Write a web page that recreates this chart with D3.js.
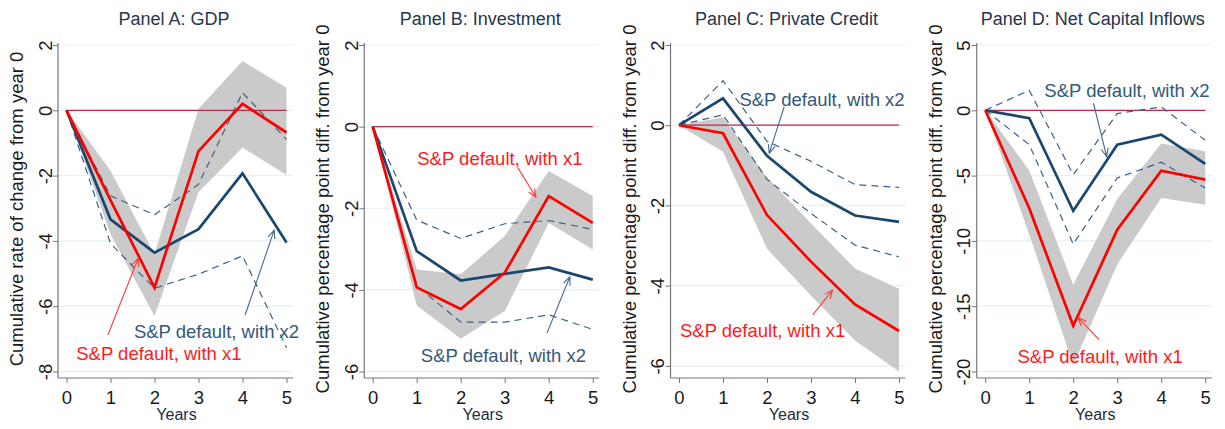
<!DOCTYPE html>
<html>
<head>
<meta charset="utf-8">
<script src="https://cdn.jsdelivr.net/npm/d3@7"></script>
<style>
  body { margin: 0; background: #fff; }
  svg { display: block; font-family: "Liberation Sans", Arial, sans-serif; }
</style>
</head>
<body>
<div id="chart"></div>
<script>
// years on the x axis
var years = [0, 1, 2, 3, 4, 5];
var labelX1 = "S&P default, with x1";
var labelX2 = "S&P default, with x2";

var panelTitles = ["Panel A: GDP", "Panel B: Investment", "Panel C: Private Credit", "Panel D: Net Capital Inflows"];
var yTitles = ["Cumulative rate of change from year 0",
    "Cumulative percentage point diff. from year 0",
    "Cumulative percentage point diff. from year 0",
    "Cumulative percentage point diff. from year 0"];

// Panel A: GDP
var gdpTicks = [-8, -6, -4, -2, 0, 2];
var gdpX1 = [0, -2.75, -5.43, -1.25, 0.2, -0.68];
var gdpX1Lo = [0, -3.8, -6.3, -2.5, -1.14, -1.98];
var gdpX1Hi = [0, -1.85, -4.41, 0.05, 1.51, 0.69];
var gdpX2 = [0, -3.34, -4.36, -3.64, -1.93, -4.05];
var gdpX2Lo = [0, -4.08, -5.45, -5.02, -4.46, -7.27];
var gdpX2Hi = [0, -2.62, -3.2, -2.27, 0.54, -0.89];

// Panel B: Investment
var invTicks = [-6, -4, -2, 0, 2];
var invX1 = [0, -3.94, -4.47, -3.58, -1.7, -2.36];
var invX1Lo = [0, -4.38, -5.2, -4.52, -2.36, -3.01];
var invX1Hi = [0, -3.5, -3.62, -2.68, -1.09, -1.7];
var invX2 = [0, -3.05, -3.77, -3.61, -3.45, -3.75];
var invX2Lo = [0, -3.9, -4.79, -4.79, -4.61, -4.97];
var invX2Hi = [0, -2.29, -2.74, -2.38, -2.3, -2.52];

// Panel C: Private Credit
var crdTicks = [-6, -4, -2, 0, 2];
var crdX1 = [0, -0.2, -2.24, -3.4, -4.47, -5.13];
var crdX1Lo = [0, -0.66, -3.08, -4.25, -5.37, -6.14];
var crdX1Hi = [0, 0.2, -1.3, -2.45, -3.57, -4.08];
var crdX2 = [0, 0.67, -0.76, -1.66, -2.25, -2.41];
var crdX2Lo = [0, 0.26, -1.35, -2.2, -2.99, -3.28];
var crdX2Hi = [0, 1.11, -0.4, -0.9, -1.48, -1.55];

// Panel D: Net Capital Inflows
var cifTicks = [-20, -15, -10, -5, 0, 5];
var cifX1 = [0, -7.5, -16.5, -9.14, -4.62, -5.31];
var cifX1Lo = [0, -9.5, -19.5, -11.8, -6.71, -7.23];
var cifX1Hi = [0, -4.6, -13.36, -6.8, -2.55, -3.14];
var cifX2 = [0, -0.6, -7.7, -2.63, -1.86, -4.11];
var cifX2Lo = [0, -2.63, -10.24, -5.18, -3.98, -5.95];
var cifX2Hi = [0, 1.53, -4.93, -0.25, 0.26, -2.3];

// label positions [year, value] and arrows [fromYear, fromValue, toYear, toValue]
var gdpNoteX1 = [2.1, -7.46], gdpArrowX1 = [0.94, -6.88, 1.63, -4.53];
var gdpNoteX2 = [3.41, -6.79], gdpArrowX2 = [4.06, -6.27, 4.72, -3.67];
var invNoteX1 = [2.89, -0.77], invArrowX1 = [3.3, -1.01, 3.71, -1.73];
var invNoteX2 = [2.97, -5.6], invArrowX2 = [3.96, -5.06, 4.48, -3.68];
var crdNoteX1 = [1.9, -5.11], crdArrowX1 = [3.04, -4.73, 3.49, -4.11];
var crdNoteX2 = [3.25, 0.63], crdArrowX2 = [2.39, 0.46, 2.05, -0.7];
var cifNoteX1 = [2.61, -18.87], cifArrowX1 = [2.59, -17.58, 2.11, -15.88];
var cifNoteX2 = [3.22, 1.55], cifArrowX2 = [2.46, 0.54, 2.76, -3.55];

var panels = [
    {ticks: gdpTicks, x1: gdpX1, lo: gdpX1Lo, hi: gdpX1Hi, x2: gdpX2, lo2: gdpX2Lo, hi2: gdpX2Hi,
        n1: gdpNoteX1, a1: gdpArrowX1, n2: gdpNoteX2, a2: gdpArrowX2},
    {ticks: invTicks, x1: invX1, lo: invX1Lo, hi: invX1Hi, x2: invX2, lo2: invX2Lo, hi2: invX2Hi,
        n1: invNoteX1, a1: invArrowX1, n2: invNoteX2, a2: invArrowX2},
    {ticks: crdTicks, x1: crdX1, lo: crdX1Lo, hi: crdX1Hi, x2: crdX2, lo2: crdX2Lo, hi2: crdX2Hi,
        n1: crdNoteX1, a1: crdArrowX1, n2: crdNoteX2, a2: crdArrowX2},
    {ticks: cifTicks, x1: cifX1, lo: cifX1Lo, hi: cifX1Hi, x2: cifX2, lo2: cifX2Lo, hi2: cifX2Hi,
        n1: cifNoteX1, a1: cifArrowX1, n2: cifNoteX2, a2: cifArrowX2}
];

var width = 1225, height = 429;
var panelW = width / 4;
var m = {axisX: 58, x0: 66.5, x5: 286.5, right: 293, top: 45, bottom: 371.5, axisY: 378};

var navy = "#1a476f", red = "#ff0000", band = "#cacaca";
var noteBlue = "#34587c";

var svg = d3.select("#chart")
    .append("svg")
    .attr("width", width)
    .attr("height", height);

panels.forEach(function(p, i) {
    var g = svg.append("g")
        .attr("transform", "translate(" + (i * panelW) + ",0)");

    var all = p.lo.concat(p.lo2, p.hi, p.hi2, p.ticks);
    var x = d3.scaleLinear().domain([0, 5]).range([m.x0, m.x5]);
    var y = d3.scaleLinear()
        .domain([d3.min(all), d3.max(p.ticks)])
        .range([m.bottom, m.top]);

    // grid lines
    g.selectAll(".grid")
        .data(p.ticks)
        .enter().append("line")
        .attr("x1", m.axisX).attr("x2", m.right)
        .attr("y1", function(d) { return y(d); })
        .attr("y2", function(d) { return y(d); })
        .attr("stroke", "#e6eff1")
        .attr("stroke-width", 1.2);

    // confidence band for x1
    g.append("path")
        .datum(years)
        .attr("fill", band)
        .attr("d", d3.area()
            .x(function(d) { return x(d); })
            .y0(function(d, j) { return y(p.lo[j]); })
            .y1(function(d, j) { return y(p.hi[j]); }));

    // zero line
    g.append("line")
        .attr("x1", x(0)).attr("x2", x(5))
        .attr("y1", y(0)).attr("y2", y(0))
        .attr("stroke", "#c0284f")
        .attr("stroke-width", 1.3);

    var line = function(arr) {
        return d3.line()
            .x(function(d) { return x(d); })
            .y(function(d, j) { return y(arr[j]); })(years);
    };

    [p.lo2, p.hi2].forEach(function(arr) {
        g.append("path")
            .attr("d", line(arr))
            .attr("fill", "none")
            .attr("stroke", "#3d6186")
            .attr("stroke-width", 1.2)
            .attr("stroke-dasharray", "7,5");
    });

    g.append("path")
        .attr("d", line(p.x2))
        .attr("fill", "none")
        .attr("stroke", navy)
        .attr("stroke-width", 2.7)
        .attr("stroke-linejoin", "miter");

    g.append("path")
        .attr("d", line(p.x1))
        .attr("fill", "none")
        .attr("stroke", red)
        .attr("stroke-width", 2.7)
        .attr("stroke-linejoin", "miter");

    // y axis
    var yAxis = g.append("g")
        .attr("transform", "translate(" + m.axisX + ",0)")
        .call(d3.axisLeft(y).tickValues(p.ticks).tickSize(5).tickFormat(function(d) { return String(d); }));
    yAxis.select(".domain").remove();
    yAxis.selectAll(".tick line").attr("stroke", "#777");
    yAxis.selectAll(".tick text")
        .attr("x", null).attr("dy", null)
        .attr("transform", "translate(-13,0) rotate(-90)")
        .attr("text-anchor", "middle")
        .attr("dominant-baseline", "central")
        .attr("fill", "#1a1a1a")
        .style("font-size", "18.5px");
    g.append("line")
        .attr("x1", m.axisX).attr("x2", m.axisX)
        .attr("y1", m.top - 2).attr("y2", m.axisY)
        .attr("stroke", "#777").attr("stroke-width", 1.2);

    // x axis
    var xAxis = g.append("g")
        .attr("transform", "translate(0," + m.axisY + ")")
        .call(d3.axisBottom(x).tickValues(years).tickSize(5).tickFormat(d3.format("d")));
    xAxis.select(".domain").remove();
    xAxis.selectAll(".tick line").attr("stroke", "#777");
    xAxis.selectAll(".tick text")
        .attr("dy", null)
        .attr("y", 26.3)
        .attr("fill", "#1a1a1a")
        .style("font-size", "18.5px");
    g.append("line")
        .attr("x1", m.axisX).attr("x2", m.right)
        .attr("y1", m.axisY).attr("y2", m.axisY)
        .attr("stroke", "#777").attr("stroke-width", 1.2);

    g.append("text")
        .attr("x", (m.x0 + m.x5) / 2)
        .attr("y", 420)
        .attr("text-anchor", "middle")
        .attr("fill", "#1e2b40")
        .style("font-size", "16px")
        .text("Years");

    // y title
    g.append("text")
        .attr("transform", "translate(16.5," + 209 + ") rotate(-90)")
        .attr("text-anchor", "middle")
        .attr("dominant-baseline", "central")
        .attr("fill", "#1a1a1a")
        .style("font-size", "18.5px")
        .text(yTitles[i]);

    // panel title
    g.append("text")
        .attr("x", 174)
        .attr("y", 25)
        .attr("text-anchor", "middle")
        .attr("fill", "#27354a")
        .style("font-size", "18px")
        .text(panelTitles[i]);

    // annotations
    function arrow(a, color) {
        var x1 = x(a[0]), y1 = y(a[1]), x2 = x(a[2]), y2 = y(a[3]);
        var ang = Math.atan2(y2 - y1, x2 - x1);
        var len = 9, spread = 0.4;
        g.append("path")
            .attr("d", "M" + x1 + "," + y1 + "L" + x2 + "," + y2 +
                "M" + (x2 - len * Math.cos(ang - spread)) + "," + (y2 - len * Math.sin(ang - spread)) +
                "L" + x2 + "," + y2 +
                "L" + (x2 - len * Math.cos(ang + spread)) + "," + (y2 - len * Math.sin(ang + spread)))
            .attr("fill", "none")
            .attr("stroke", color)
            .attr("stroke-width", 1.1);
    }
    arrow(p.a1, "#ff3b3b");
    arrow(p.a2, "#46698c");

    g.append("text")
        .attr("x", x(p.n1[0])).attr("y", y(p.n1[1]))
        .attr("text-anchor", "middle")
        .attr("dominant-baseline", "central")
        .attr("fill", "#ff1a1a")
        .style("font-size", "18.5px")
        .text(labelX1);
    g.append("text")
        .attr("x", x(p.n2[0])).attr("y", y(p.n2[1]))
        .attr("text-anchor", "middle")
        .attr("dominant-baseline", "central")
        .attr("fill", noteBlue)
        .style("font-size", "18.5px")
        .text(labelX2);
});
</script>
</body>
</html>
